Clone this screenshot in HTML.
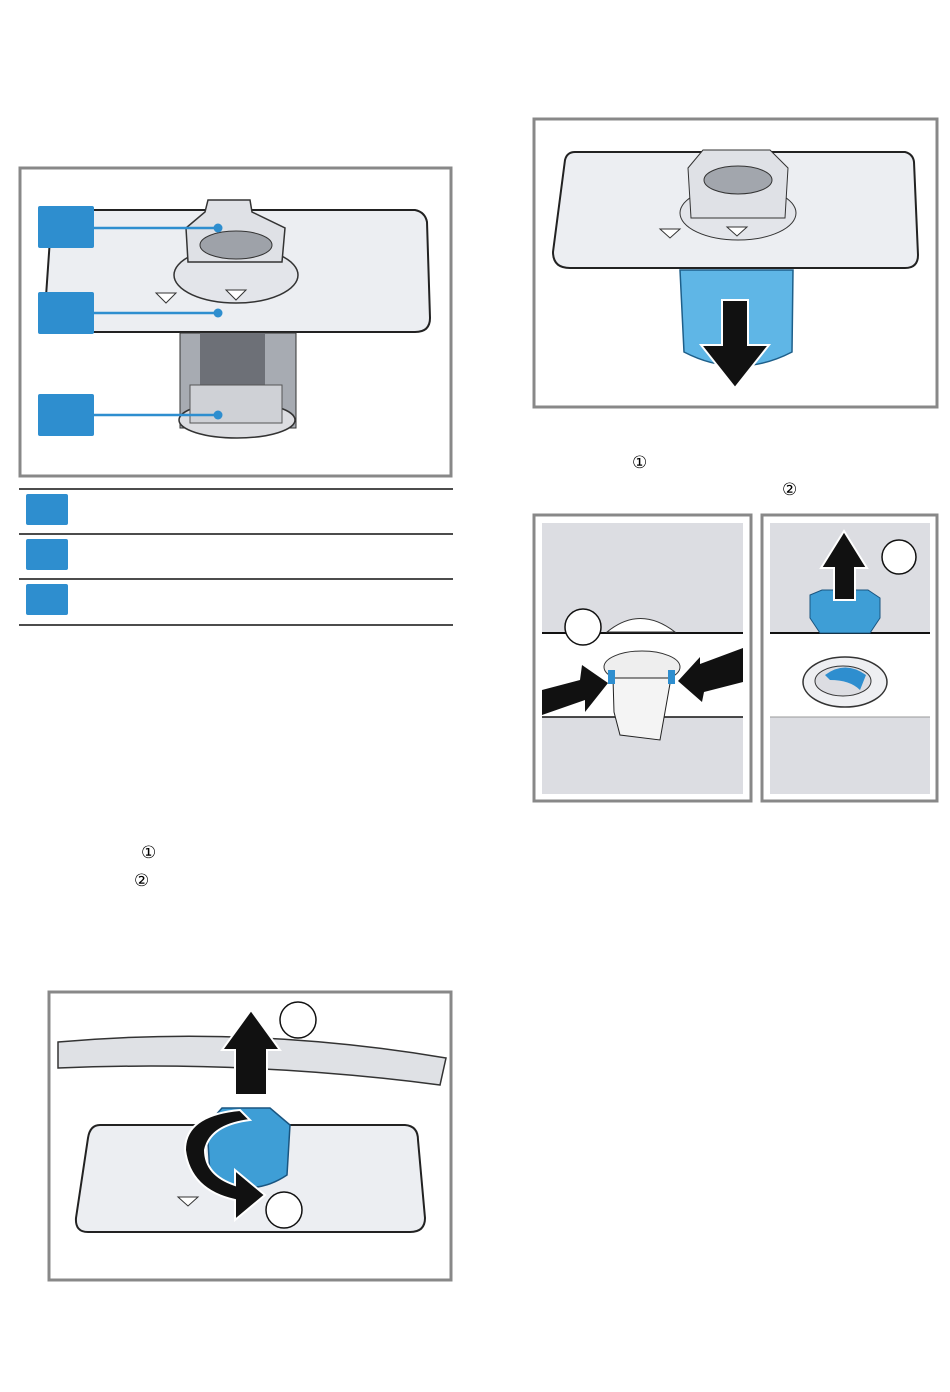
<!DOCTYPE html>
<html><head><meta charset="utf-8"><style>
body{margin:0;background:#fff}
svg{display:block}
text{font-family:"Liberation Sans","DejaVu Sans",sans-serif}
</style></head><body>
<svg width="950" height="1392" viewBox="0 0 950 1392" xmlns="http://www.w3.org/2000/svg">
<!-- Fig 1 -->
<rect x="20" y="168" width="431" height="308" fill="#fff" stroke="#888" stroke-width="3"/>
<path d="M52 210 L415 210 Q425 212 427 222 L430 318 Q430 332 415 332 L50 332 Q44 332 44 325 Z" fill="#eceef2" stroke="#222" stroke-width="2"/>
<ellipse cx="236" cy="275" rx="62" ry="28" fill="#e3e5ea" stroke="#333" stroke-width="1.5"/>
<path d="M186 228 L205 212 L208 200 L250 200 L252 212 L285 228 L282 262 L188 262 Z" fill="#dfe1e6" stroke="#333" stroke-width="1.5"/>
<ellipse cx="236" cy="245" rx="36" ry="14" fill="#9ea2a9" stroke="#333"/>
<polygon points="156,293 176,293 166,303" fill="#fff" stroke="#333"/>
<polygon points="226,290 246,290 236,300" fill="#fff" stroke="#333"/>
<rect x="180" y="333" width="116" height="95" fill="#a7abb2" stroke="#333"/>
<rect x="200" y="333" width="65" height="55" fill="#6d7077"/>
<ellipse cx="237" cy="420" rx="58" ry="18" fill="#dcdde1" stroke="#333" stroke-width="1.5"/>
<rect x="190" y="385" width="92" height="38" fill="#cfd1d6" stroke="#555"/>
<rect x="38" y="206" width="56" height="42" rx="2" fill="#2e8ecf"/>
<rect x="38" y="292" width="56" height="42" rx="2" fill="#2e8ecf"/>
<rect x="38" y="394" width="56" height="42" rx="2" fill="#2e8ecf"/>
<g stroke="#2e8ecf" stroke-width="2.5"><line x1="94" y1="228" x2="218" y2="228"/><line x1="94" y1="313" x2="218" y2="313"/><line x1="94" y1="415" x2="218" y2="415"/></g>
<g fill="#2e8ecf"><circle cx="218" cy="228" r="4.5"/><circle cx="218" cy="313" r="4.5"/><circle cx="218" cy="415" r="4.5"/></g>
<!-- table -->
<g stroke="#111" stroke-width="1.5"><line x1="19" y1="489" x2="453" y2="489"/><line x1="19" y1="534" x2="453" y2="534"/><line x1="19" y1="579" x2="453" y2="579"/><line x1="19" y1="625" x2="453" y2="625"/></g>
<g fill="#2e8ecf"><rect x="26" y="494" width="42" height="31" rx="2"/><rect x="26" y="539" width="42" height="31" rx="2"/><rect x="26" y="584" width="42" height="31" rx="2"/></g>
<text x="141" y="858" font-size="17">①</text>
<text x="134" y="886" font-size="17">②</text>
<!-- Fig 2 -->
<rect x="534" y="119" width="403" height="288" fill="#fff" stroke="#888" stroke-width="3"/>
<path d="M575 152 L905 152 Q913 154 914 162 L918 255 Q918 268 905 268 L570 268 Q553 268 553 252 L565 160 Q567 152 575 152 Z" fill="#eceef2" stroke="#222" stroke-width="2"/>
<ellipse cx="738" cy="213" rx="58" ry="27" fill="#e3e5ea" stroke="#333"/>
<path d="M688 168 L703 150 L770 150 L788 168 L785 218 L691 218 Z" fill="#dfe1e6" stroke="#333"/>
<ellipse cx="738" cy="180" rx="34" ry="14" fill="#a2a6ad" stroke="#333"/>
<polygon points="660,229 680,229 670,238" fill="#fff" stroke="#333"/>
<polygon points="727,227 747,227 737,236" fill="#fff" stroke="#333"/>
<path d="M680 270 L793 270 L792 352 Q738 380 684 352 Z" fill="#5fb6e6" stroke="#1e5f8a" stroke-width="1.5"/>
<path d="M722 300 L748 300 L748 345 L769 345 L735 388 L701 345 L722 345 Z" fill="#111" stroke="#fff" stroke-width="2"/>
<text x="632" y="468" font-size="17">①</text>
<text x="782" y="495" font-size="17">②</text>
<!-- Fig 3a -->
<rect x="534" y="515" width="217" height="286" fill="#fff" stroke="#888" stroke-width="3"/>
<rect x="542" y="523" width="201" height="110" fill="#dcdde2"/>
<rect x="542" y="717" width="201" height="77" fill="#dcdde2"/>
<line x1="542" y1="633" x2="743" y2="633" stroke="#111" stroke-width="2"/>
<line x1="542" y1="717" x2="743" y2="717" stroke="#111" stroke-width="1.5"/>
<path d="M607 632 Q640 605 675 632 Z" fill="#fff" stroke="#333"/>
<circle cx="583" cy="627" r="18" fill="#fff" stroke="#111" stroke-width="1.5"/>
<ellipse cx="642" cy="667" rx="38" ry="16" fill="#eee" stroke="#333"/>
<path d="M613 678 L671 678 L665 712 L660 740 L620 735 L614 712 Z" fill="#f4f4f4" stroke="#222"/>
<rect x="608" y="670" width="7" height="14" fill="#2e8ecf"/><rect x="668" y="670" width="7" height="14" fill="#2e8ecf"/>
<path d="M542 690 L580 680 L582 665 L608 683 L585 712 L585 700 L542 715 Z" fill="#111"/>
<path d="M743 648 L743 682 L704 692 L702 702 L678 681 L700 657 L700 664 Z" fill="#111"/>
<!-- Fig 3b -->
<rect x="762" y="515" width="175" height="286" fill="#fff" stroke="#888" stroke-width="3"/>
<rect x="770" y="523" width="160" height="110" fill="#dcdde2"/>
<rect x="770" y="717" width="160" height="77" fill="#dcdde2"/>
<line x1="770" y1="633" x2="930" y2="633" stroke="#111" stroke-width="2"/>
<line x1="770" y1="717" x2="930" y2="717" stroke="#999" stroke-width="1"/>
<path d="M810 595 L822 590 L868 590 L880 598 L880 618 L870 633 L820 633 L810 618 Z" fill="#3e9ed6" stroke="#1a5580"/>
<path d="M834 600 L834 568 L821 568 L844 531 L867 568 L855 568 L855 600 Z" fill="#111" stroke="#fff" stroke-width="2"/>
<circle cx="899" cy="557" r="17" fill="#fff" stroke="#111" stroke-width="1.5"/>
<ellipse cx="845" cy="682" rx="42" ry="25" fill="#eeeff2" stroke="#333" stroke-width="1.5"/>
<ellipse cx="843" cy="681" rx="28" ry="15" fill="#dcdde2" stroke="#333"/>
<path d="M825 675 Q845 660 866 675 L860 690 Q850 680 830 680 Z" fill="#2e8ecf"/>
<!-- Fig 4 -->
<rect x="49" y="992" width="402" height="288" fill="#fff" stroke="#888" stroke-width="3"/>
<path d="M58 1042 Q250 1025 446 1058 L440 1085 Q250 1060 58 1068 Z" fill="#dfe1e5" stroke="#333" stroke-width="1.5"/>
<path d="M100 1125 L405 1125 Q418 1126 418 1140 L425 1218 Q425 1232 410 1232 L88 1232 Q75 1232 76 1218 L88 1138 Q90 1125 100 1125 Z" fill="#eceef2" stroke="#222" stroke-width="2"/>
<polygon points="178,1197 198,1197 188,1206" fill="#fff" stroke="#333"/>
<path d="M207 1125 L222 1108 L270 1108 L290 1125 L287 1175 Q250 1200 210 1175 Z" fill="#3e9ed6" stroke="#1a5580" stroke-width="1.5"/>
<path d="M235 1095 L235 1050 L222 1050 L251 1010 L280 1050 L267 1050 L267 1095 Z" fill="#111" stroke="#fff" stroke-width="2"/>
<path d="M240 1110 Q185 1115 185 1150 Q190 1190 235 1200 L235 1220 L265 1195 L235 1170 L235 1185 Q205 1175 205 1150 Q210 1125 250 1120 Z" fill="#111" stroke="#fff" stroke-width="2"/>
<circle cx="298" cy="1020" r="18" fill="#fff" stroke="#111" stroke-width="1.5"/>
<circle cx="284" cy="1210" r="18" fill="#fff" stroke="#111" stroke-width="1.5"/>
</svg>
</body></html>
